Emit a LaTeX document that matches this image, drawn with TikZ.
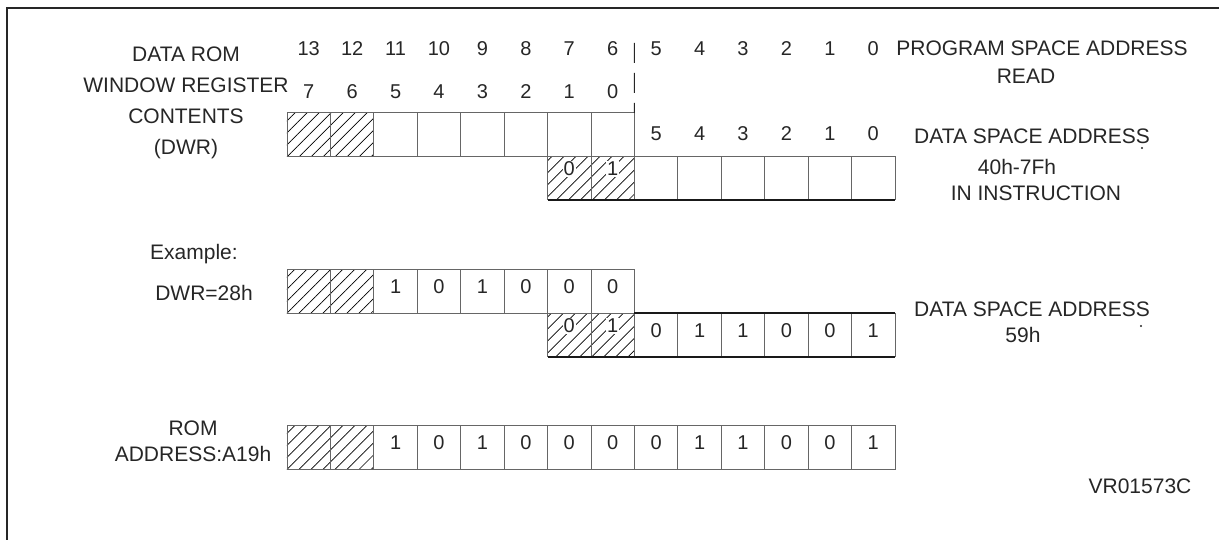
\documentclass[tikz,border=0pt]{standalone}
\usepackage{fontspec}
\setmainfont{Liberation Sans}
\usetikzlibrary{patterns.meta}

\begin{document}
\begin{tikzpicture}[
        x=1pt, y=-1pt,
        txt/.style={text=black!85, inner sep=0pt, font=\fontsize{21}{25}\selectfont},
        word/.style={txt, text height=15.2pt, text depth=0pt},
        num/.style={word, font=\fontsize{20}{24}\selectfont, text height=14.4pt},
        cell/.style={rectangle, draw=black!60, line width=0.8pt, minimum width=43.43pt, minimum height=43.43pt, inner sep=0pt, outer sep=0pt, text height=14.4pt, text depth=10pt, text=black!85, font=\fontsize{20}{24}\selectfont},
        hatched/.style={cell, pattern={Lines[angle=45, distance=8.5pt, line width=0.7pt]}},
        bit/.style={fill=white, inner sep=0.8pt, yshift=9pt, text=black!85, font=\fontsize{20}{24}\selectfont},
        rim/.style={line width=1.6pt, black!90}
    ]
\useasboundingbox (0,0) rectangle (1219,540);
\draw[line width=2.5pt, black!85] (7,540) -- (7,8) -- (1219,8);

% Bit numbers
        \foreach \n [count=\i from 0] in {13,12,...,0}
            \node[num] (top\i) at ({308.7+43.43*\i},48) {\n};
        \foreach \n [count=\i from 0] in {7,6,...,0}
            \node[num] (dwr\i) at ({308.7+43.43*\i},91) {\n};
        \foreach \n [count=\i from 8] in {5,4,...,0}
            \node[num] (dsa\i) at ({308.7+43.43*\i},133) {\n};

% Window register and data space address
        \foreach \i in {0,1}
            \node[hatched] (u1c\i) at ({308.7+43.43*\i},134.5) {};
        \foreach \i in {2,...,7}
            \node[cell] (u1c\i) at ({308.7+43.43*\i},134.5) {};
        \node[hatched, label={[bit]center:0}] (u2c6) at ({308.7+43.43*6},178) {};
        \node[hatched, label={[bit]center:1}] (u2c7) at ({308.7+43.43*7},178) {};
        \foreach \i in {8,...,13}
            \node[cell] (u2c\i) at ({308.7+43.43*\i},178) {};
        \draw[rim] (u2c6.south west) -- (u2c13.south east);
        \coordinate (split) at (634.4,43);
        \draw[black!85, line width=1pt, dash pattern=on 20pt off 10pt] (split) -- (u1c7.north east);

% Example
        \foreach \i in {0,1}
            \node[hatched] (e1c\i) at ({308.7+43.43*\i},291.5) {};
        \foreach \b [count=\i from 2] in {1,0,1,0,0,0}
            \node[cell] (e1c\i) at ({308.7+43.43*\i},291.5) {\b};
        \node[hatched, label={[bit]center:0}] (e2c6) at ({308.7+43.43*6},335) {};
        \node[hatched, label={[bit]center:1}] (e2c7) at ({308.7+43.43*7},335) {};
        \foreach \b [count=\i from 8] in {0,1,1,0,0,1}
            \node[cell] (e2c\i) at ({308.7+43.43*\i},335) {\b};
        \draw[rim] (e2c6.south west) -- (e2c13.south east);
        \draw[rim] (e2c8.north west) -- (e2c13.north east);

% ROM address
        \foreach \i in {0,1}
            \node[hatched] (romc\i) at ({308.7+43.43*\i},447.5) {};
        \foreach \b [count=\i from 2] in {1,0,1,0,0,0,0,1,1,0,0,1}
            \node[cell] (romc\i) at ({308.7+43.43*\i},447.5) {\b};

% Texts
        \node[txt, align=center, font=\fontsize{21}{31}\selectfont] (dwrtext) at (186,102.5) {DATA ROM\\WINDOW REGISTER\\CONTENTS\\(DWR)};
        \node[word] (prog) at (1042,48) {PROGRAM SPACE ADDRESS};
        \node[word] (read) at (1026,76) {READ};
        \node[word] (dsa) at (1032,136) {DATA SPACE ADDRESS};
        \node[word] (range) at (1017,167) {40h-7Fh};
        \node[word] (instr) at (1036,193) {IN INSTRUCTION};
        \fill[black!85] (1142,148) circle (1.1pt);
        \node[word] (example) at (194,252) {Example:};
        \node[word] (dwrval) at (204,293) {DWR=28h};
        \node[word] (dsaex) at (1032,309) {DATA SPACE ADDRESS};
        \node[word] (dsaval) at (1023,335) {59h};
        \fill[black!85] (1141,326) circle (1.1pt);
        \node[txt, align=center, font=\fontsize{21}{26}\selectfont] (romtext) at (193,441) {ROM\\ADDRESS:A19h};
        \node[word] (code) at (1140,486) {VR01573C};
    \end{tikzpicture}
\end{document}
